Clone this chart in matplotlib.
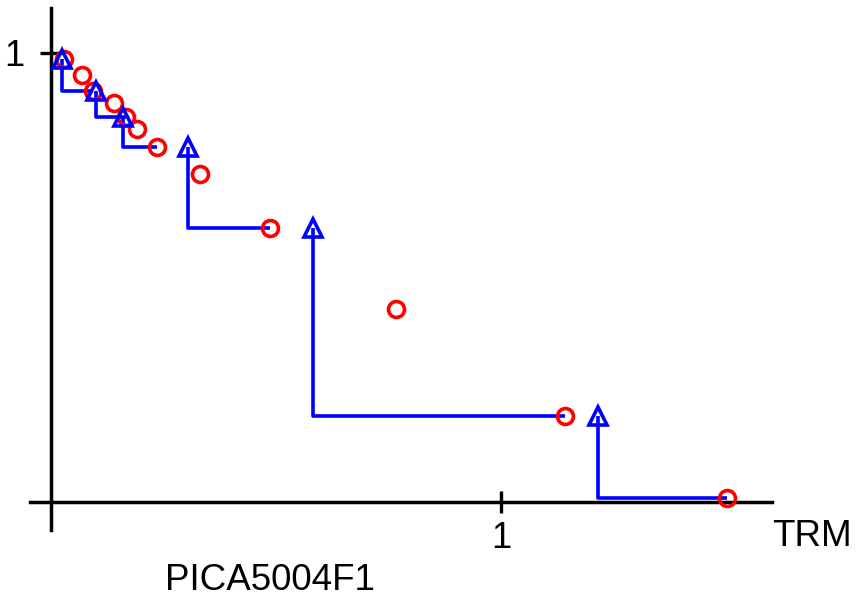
import matplotlib
matplotlib.use("Agg")
import matplotlib.pyplot as plt

# Arai plot data: TRM gained (x) vs NRM remaining (y)
trm = [0.029, 0.069, 0.093, 0.140, 0.167, 0.191, 0.236, 0.331, 0.487, 0.767, 1.142, 1.502]
nrm = [0.987, 0.951, 0.915, 0.889, 0.857, 0.831, 0.791, 0.731, 0.610, 0.430, 0.192, 0.009]

# pTRM checks: check value, step whose NRM it sits at, step the line goes back to
check_trm = [0.024, 0.100, 0.160, 0.304, 0.582, 1.216]
check_from = [0, 2, 4, 6, 8, 10]
check_to = [2, 4, 6, 8, 10, 11]

W, H = 856, 601
fig = plt.figure(figsize=(W / 100, H / 100), dpi=100)
plt.rcParams['font.family'] = ['Liberation Sans', 'DejaVu Sans']

# axes box in pixels: left 30, right 772, top 8, bottom 530
ax = fig.add_axes([30 / W, 1 - 530 / H, (772 - 30) / W, (530 - 8) / H])
ax.set_xlim(-0.0467, 1.602)
ax.set_ylim(-0.0624, 1.1002)

for s in ['top', 'right']:
    ax.spines[s].set_visible(False)
for s in ['left', 'bottom']:
    ax.spines[s].set_position(('data', 0))
    ax.spines[s].set_linewidth(2.5)

ax.set_xticks([1])
ax.set_xticklabels(['1'])
ax.set_yticks([1])
ax.set_yticklabels(['1'])
ax.tick_params(direction='inout', length=16, width=2.4, labelsize=26)
ax.tick_params(axis='x', pad=6)
ax.tick_params(axis='y', pad=11)

# pTRM check step lines
for xc, i, k in zip(check_trm, check_from, check_to):
    ax.plot([xc, xc, trm[k]], [nrm[i], nrm[k], nrm[k]], color='blue', lw=2.6,
            solid_capstyle='butt', zorder=2)

ax.plot(trm, nrm, 'o', ms=11.5, mew=2.6, mec='red', mfc='none', zorder=3)
ax.plot(check_trm, [nrm[i] for i in check_from], '^', ms=13.5, mew=2.6,
        mec='blue', mfc='none', zorder=4)

fig.text(772 / W, 1 - 537 / H, 'TRM', fontsize=26.5, va='center', ha='left')
fig.text(270 / W, 1 - 580 / H, 'PICA5004F1', fontsize=26.5, va='center', ha='center')

fig.savefig('out.png', dpi=100)
